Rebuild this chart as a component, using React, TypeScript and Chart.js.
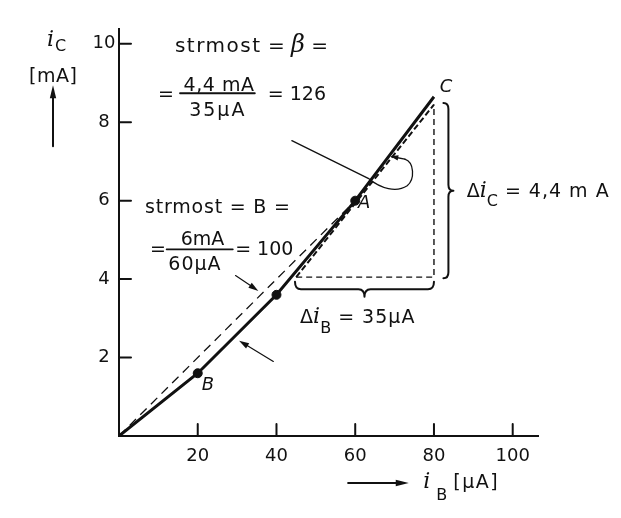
import React, { useEffect, useRef } from "react";
import { Chart, registerables } from "chart.js";

Chart.register(...registerables);

// Transfer characteristic i_C(i_B): base current in µA, collector current in mA
const curveIB = [0, 20, 40, 60, 80];
const curveIC = [0, 1.6, 3.6, 6.0, 8.65];

// marked operating points (B, middle point, A)
const markedIB = [20, 40, 60];
const markedIC = [1.6, 3.6, 6.0];

// chord from the origin through A: B = 6 mA / 60 µA
const chordIB = [0, 60];
const chordIC = [0, 6.0];

// tangent at A: β = 4,4 mA / 35 µA
const tangentIB = [45, 80];
const tangentIC = [4.05, 8.45];

// construction triangle for Δi_B and Δi_C
const triangleIB = [45, 80, 80];
const triangleIC = [4.05, 4.05, 8.45];

const xTickValues = [20, 40, 60, 80, 100];
const yTickValues = [2, 4, 6, 8, 10];
const X_MAX = 106.5;
const Y_MAX = 10.37;

const INK = "#111";
const SANS = "'DejaVu Sans', 'Noto Sans', sans-serif";
const SERIF = "'DejaVu Serif', 'Liberation Serif', serif";

const pts = (xs: number[], ys: number[]) => xs.map((v, i) => ({ x: v, y: ys[i] }));

type Run = { t: string; font: string; dy?: number; dx?: number; ls?: number };

function runs(ctx: CanvasRenderingContext2D, x: number, y: number, parts: Run[]) {
  let cx = x;
  for (const p of parts) {
    ctx.font = p.font;
    (ctx as any).letterSpacing = `${p.ls ?? 0}px`;
    cx += p.dx ?? 0;
    ctx.fillText(p.t, cx, y + (p.dy ?? 0));
    cx += ctx.measureText(p.t).width;
  }
  (ctx as any).letterSpacing = "0px";
}

function centered(ctx: CanvasRenderingContext2D, t: string, cx: number, y: number, font: string, ls = 0) {
  ctx.font = font;
  (ctx as any).letterSpacing = `${ls}px`;
  const w = ctx.measureText(t).width;
  ctx.fillText(t, cx - w / 2, y);
  (ctx as any).letterSpacing = "0px";
}

function arrow(
  ctx: CanvasRenderingContext2D,
  x1: number, y1: number, x2: number, y2: number,
  len = 10, half = 3, lw = 1.2
) {
  const a = Math.atan2(y2 - y1, x2 - x1);
  ctx.lineWidth = lw;
  ctx.beginPath();
  ctx.moveTo(x1, y1);
  ctx.lineTo(x2 - Math.cos(a) * len * 0.6, y2 - Math.sin(a) * len * 0.6);
  ctx.stroke();
  const bx = x2 - Math.cos(a) * len;
  const by = y2 - Math.sin(a) * len;
  ctx.beginPath();
  ctx.moveTo(x2, y2);
  ctx.lineTo(bx + Math.sin(a) * half, by - Math.cos(a) * half);
  ctx.lineTo(bx - Math.sin(a) * half, by + Math.cos(a) * half);
  ctx.closePath();
  ctx.fill();
}

// curly brace from (x1,y1) to (x2,y2), bulging to the right of the direction of travel
function brace(ctx: CanvasRenderingContext2D, x1: number, y1: number, x2: number, y2: number, depth: number) {
  const L = Math.hypot(x2 - x1, y2 - y1);
  const a = Math.atan2(y2 - y1, x2 - x1);
  const h = depth * 0.5;
  const r = 6;
  const m = L / 2;
  ctx.save();
  ctx.translate(x1, y1);
  ctx.rotate(a);
  ctx.lineWidth = 2;
  ctx.beginPath();
  ctx.moveTo(0, 0);
  ctx.quadraticCurveTo(0, h, r, h);
  ctx.lineTo(m - r, h);
  ctx.quadraticCurveTo(m, h, m, depth);
  ctx.quadraticCurveTo(m, h, m + r, h);
  ctx.lineTo(L - r, h);
  ctx.quadraticCurveTo(L, h, L, 0);
  ctx.stroke();
  ctx.restore();
}

const annotations = {
  id: "annotations",
  afterDraw(chart: Chart) {
    const { ctx, chartArea: ca } = chart;
    const xs = chart.scales.x;
    const ys = chart.scales.y;
    const X = (v: number) => xs.getPixelForValue(v);
    const Y = (v: number) => ys.getPixelForValue(v);

    ctx.save();
    ctx.fillStyle = INK;
    ctx.strokeStyle = INK;
    ctx.lineCap = "round";
    ctx.lineJoin = "round";
    ctx.textBaseline = "alphabetic";

    // tick marks pointing into the plot
    ctx.lineWidth = 2;
    ctx.beginPath();
    for (const v of xTickValues) {
      ctx.moveTo(X(v), ca.bottom);
      ctx.lineTo(X(v), ca.bottom - 12);
    }
    for (const v of yTickValues) {
      ctx.moveTo(ca.left, Y(v));
      ctx.lineTo(ca.left + 12, Y(v));
    }
    ctx.stroke();

    const f19 = `19px ${SANS}`;
    const f20 = `20px ${SANS}`;
    const iFont = `italic 22px ${SERIF}`;
    const sub = `16px ${SANS}`;
    const ital = `italic 18px ${SANS}`;

    // axis titles
    runs(ctx, ca.left - 72, ca.top + 17, [
      { t: "i", font: iFont },
      { t: "C", font: sub, dy: 5, dx: 1 },
    ]);
    runs(ctx, ca.left - 90, ca.top + 53, [{ t: "[mA]", font: f19, ls: 0.5 }]);
    arrow(ctx, ca.left - 66, ca.top + 117, ca.left - 66, ca.top + 56, 13, 3.2, 2);

    arrow(ctx, X(58.2), ca.bottom + 47, X(73.6), ca.bottom + 47, 13, 3.2, 2);
    runs(ctx, X(77.3), ca.bottom + 52, [
      { t: "i", font: iFont },
      { t: "B", font: sub, dy: 12, dx: 6 },
      { t: "[µA]", font: f19, ls: 1.5, dx: 6 },
    ]);

    // β formula (tangent slope)
    runs(ctx, X(14.2), Y(9.8), [
      { t: "strmost", font: f20, ls: 1.5 },
      { t: " = ", font: f20 },
      { t: "β", font: `italic 24px ${SERIF}` },
      { t: " =", font: f20 },
    ]);
    runs(ctx, X(9.9), Y(8.58), [{ t: "=", font: f19 }]);
    centered(ctx, "4,4 mA", X(25.4), Y(8.8), f19, 0.5);
    ctx.lineWidth = 1.8;
    ctx.beginPath();
    ctx.moveTo(X(15.5), Y(8.74));
    ctx.lineTo(X(34.5), Y(8.74));
    ctx.stroke();
    centered(ctx, "35µA", X(25.1), Y(8.16), f19, 2);
    runs(ctx, X(37.8), Y(8.58), [{ t: "= 126", font: f19 }]);

    // B formula (chord slope)
    runs(ctx, X(6.6), Y(5.69), [
      { t: "strmost", font: f19, ls: 0.8 },
      { t: " = B =", font: f19, ls: 0.8 },
    ]);
    runs(ctx, X(7.9), Y(4.62), [{ t: "=", font: f19 }]);
    centered(ctx, "6mA", X(21.2), Y(4.87), f19);
    ctx.lineWidth = 1.8;
    ctx.beginPath();
    ctx.moveTo(X(12.1), Y(4.76));
    ctx.lineTo(X(28.9), Y(4.76));
    ctx.stroke();
    centered(ctx, "60µA", X(19.3), Y(4.23), f19, 1);
    runs(ctx, X(29.5), Y(4.62), [{ t: "= 100", font: f19 }]);

    // point names
    runs(ctx, X(81.5), Y(8.78), [{ t: "C", font: ital }]);
    runs(ctx, X(60.7), Y(5.82), [{ t: "A", font: ital }]);
    runs(ctx, X(21.0), Y(1.17), [{ t: "B", font: ital }]);

    // Δ labels
    runs(ctx, X(88.3), Y(6.1), [
      { t: "Δ", font: f19 },
      { t: "i", font: iFont },
      { t: "C", font: sub, dy: 9 },
      { t: " = 4,4 m A", font: f19, ls: 1 },
    ]);
    runs(ctx, X(46.0), Y(2.88), [
      { t: "Δ", font: f19 },
      { t: "i", font: iFont },
      { t: "B", font: sub, dy: 10 },
      { t: " = 35µA", font: f19, ls: 1 },
    ]);

    // braces
    brace(ctx, X(82.4), Y(4.02), X(82.4), Y(8.49), 10);
    brace(ctx, X(44.7), Y(3.93), X(80), Y(3.93), 15);

    // pointers to the chord and to the characteristic
    arrow(ctx, X(29.6), Y(4.09), X(35.4), Y(3.7), 10, 3, 1.2);
    arrow(ctx, X(39.2), Y(1.9), X(30.5), Y(2.43), 10, 3, 1.2);

    // angle marker for the tangent
    ctx.lineWidth = 1.3;
    ctx.beginPath();
    ctx.moveTo(X(43.9), Y(7.53));
    ctx.lineTo(X(63.3), Y(6.57));
    ctx.bezierCurveTo(X(66.5), Y(6.3), X(70.5), Y(6.2), X(73.2), Y(6.38));
    ctx.bezierCurveTo(X(75.2), Y(6.55), X(75.0), Y(6.98), X(72.6), Y(7.06));
    ctx.stroke();
    arrow(ctx, X(72.6), Y(7.06), X(68.9), Y(7.13), 8, 2.6, 1.3);

    ctx.restore();
  },
};

export default function App() {
  const ref = useRef<HTMLCanvasElement | null>(null);

  useEffect(() => {
    if (!ref.current) return;
    Chart.defaults.font.family = SANS;
    Chart.defaults.color = INK;

    const chart = new Chart(ref.current, {
      type: "scatter",
      data: {
        datasets: [
          {
            label: "chord",
            data: pts(chordIB, chordIC),
            showLine: true,
            borderColor: INK,
            borderWidth: 1.3,
            borderDash: [9, 6],
            pointRadius: 0,
          },
          {
            label: "triangle",
            data: pts(triangleIB, triangleIC),
            showLine: true,
            borderColor: INK,
            borderWidth: 1.4,
            borderDash: [6, 4],
            pointRadius: 0,
          },
          {
            label: "tangent",
            data: pts(tangentIB, tangentIC),
            showLine: true,
            borderColor: INK,
            borderWidth: 2,
            borderDash: [6, 3],
            pointRadius: 0,
          },
          {
            label: "i_C(i_B)",
            data: pts(curveIB, curveIC),
            showLine: true,
            borderColor: INK,
            borderWidth: 3,
            pointRadius: 0,
          },
          {
            label: "points",
            data: pts(markedIB, markedIC),
            showLine: false,
            backgroundColor: INK,
            borderColor: INK,
            pointRadius: 4.5,
          },
        ],
      },
      options: {
        responsive: false,
        animation: false,
        events: [],
        layout: { padding: { left: 0, top: 29.3, right: 82.7, bottom: 42 } },
        plugins: { legend: { display: false }, tooltip: { enabled: false } },
        scales: {
          x: {
            type: "linear",
            min: 0,
            max: X_MAX,
            grid: { display: false, drawTicks: false },
            border: { display: true, color: INK, width: 2 },
            afterBuildTicks: (s: any) => {
              s.ticks = xTickValues.map((v) => ({ value: v }));
            },
            afterFit: (s: any) => {
              s.height = 40;
            },
            ticks: { font: { size: 18 }, padding: 10, maxRotation: 0, color: INK },
          },
          y: {
            type: "linear",
            min: 0,
            max: Y_MAX,
            grid: { display: false, drawTicks: false },
            border: { display: true, color: INK, width: 2 },
            afterBuildTicks: (s: any) => {
              s.ticks = yTickValues.map((v) => ({ value: v }));
            },
            afterFit: (s: any) => {
              s.width = 119;
            },
            ticks: { font: { size: 18 }, padding: 3.5, crossAlign: "center", color: INK },
          },
        },
      },
      plugins: [annotations],
    });
    return () => chart.destroy();
  }, []);

  return (
    <div style={{ position: "fixed", left: 0, top: 0, width: 621, height: 518, background: "#fff" }}>
      <canvas ref={ref} width={621} height={518} style={{ width: 621, height: 518, display: "block" }} />
    </div>
  );
}
